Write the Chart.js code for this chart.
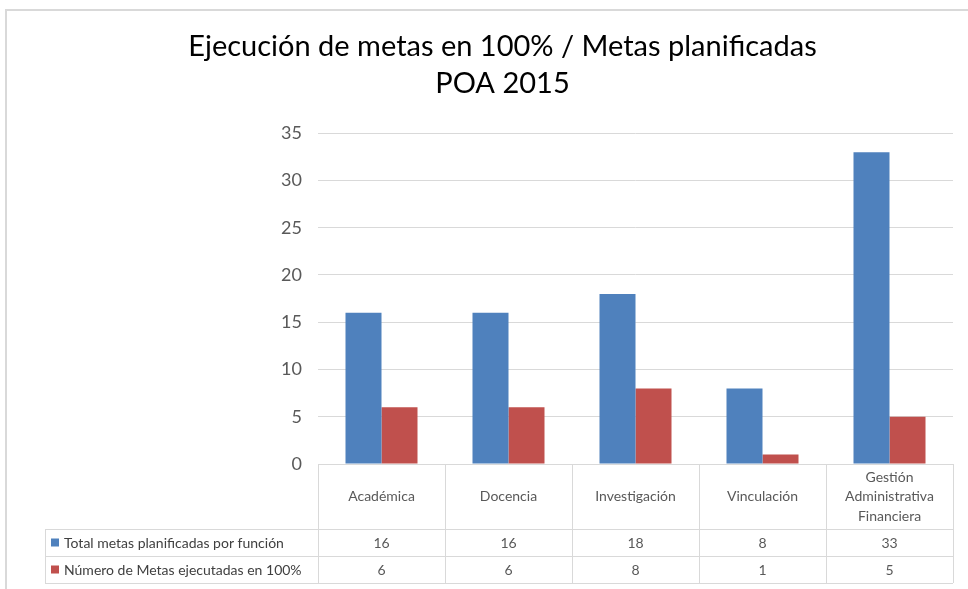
<!DOCTYPE html>
<html>
<head>
<meta charset="utf-8">
<script src="https://cdn.jsdelivr.net/npm/chart.js@4.4.1/dist/chart.umd.min.js"></script>
<style>
  html, body { margin: 0; padding: 0; background: #ffffff; }
  canvas { display: block; }
</style>
</head>
<body>
<canvas id="graficaMetas" width="968" height="589"></canvas>
<script>
var categorias = [
    ['Académica'],
    ['Docencia'],
    ['Investigación'],
    ['Vinculación'],
    ['Gestión', 'Administrativa', 'Financiera']
];
var totalPlanificadas = [16, 16, 18, 8, 33];
var ejecutadas100 = [6, 6, 8, 1, 5];
var nombresSeries = ['Total metas planificadas por función', 'Número de Metas ejecutadas en 100%'];
var coloresSeries = ['#4F81BD', '#C0504D'];
var tituloLineas = ['Ejecución de metas en 100% / Metas planificadas', 'POA 2015'];

var fuente = 'Lato, "Open Sans", sans-serif';
var colorLinea = '#d9d9d9';

// marco gris del grafico (estilo excel)
var marcoPlugin = {
    id: 'marco',
    beforeDraw: function (chart) {
        var ctx = chart.ctx;
        ctx.save();
        ctx.fillStyle = '#ffffff';
        ctx.fillRect(0, 0, chart.width, chart.height);
        ctx.strokeStyle = colorLinea;
        ctx.lineWidth = 2;
        ctx.beginPath();
        ctx.moveTo(6, chart.height);
        ctx.lineTo(6, 10);
        ctx.lineTo(chart.width, 10);
        ctx.stroke();
        ctx.restore();
    }
};

// tabla de datos debajo del eje x
var tablaPlugin = {
    id: 'tablaDatos',
    afterDraw: function (chart) {
        var ctx = chart.ctx;
        var area = chart.chartArea;
        var x = chart.scales.x;
        var n = categorias.length;
        var ancho = (area.right - area.left) / n;
        var top = area.bottom;
        var filaCat = top + 65;
        var fila1 = filaCat + 27;
        var fila2 = fila1 + 27;
        var izq = 45;
        var series = [totalPlanificadas, ejecutadas100];

        ctx.save();
        ctx.strokeStyle = colorLinea;
        ctx.lineWidth = 1;
        ctx.beginPath();
        // lineas horizontales
        ctx.moveTo(area.left, top + 0.5);
        ctx.lineTo(area.right, top + 0.5);
        [filaCat, fila1, fila2].forEach(function (yy) {
            ctx.moveTo(izq, yy + 0.5);
            ctx.lineTo(area.right, yy + 0.5);
        });
        // lineas verticales
        ctx.moveTo(izq + 0.5, filaCat);
        ctx.lineTo(izq + 0.5, fila2);
        for (var i = 0; i <= n; i++) {
            var vx = Math.round(area.left + i * ancho) + 0.5;
            ctx.moveTo(vx, top);
            ctx.lineTo(vx, fila2);
        }
        ctx.stroke();

        ctx.textAlign = 'center';
        ctx.textBaseline = 'middle';
        ctx.fillStyle = '#595959';
        ctx.font = '14px ' + fuente;
        for (var c = 0; c < n; c++) {
            var cx = x.getPixelForValue(c);
            var lineas = categorias[c];
            var alto = 19.5;
            var y0 = (top + filaCat) / 2 - (lineas.length - 1) * alto / 2;
            for (var l = 0; l < lineas.length; l++) {
                ctx.fillText(lineas[l], cx, y0 + l * alto);
            }
            ctx.fillText(String(series[0][c]), cx, (filaCat + fila1) / 2 + 1);
            ctx.fillText(String(series[1][c]), cx, (fila1 + fila2) / 2 + 1);
        }

        // leyenda dentro de la tabla
        ctx.textAlign = 'left';
        var filas = [[filaCat, fila1], [fila1, fila2]];
        for (var s = 0; s < 2; s++) {
            var cy = (filas[s][0] + filas[s][1]) / 2;
            ctx.fillStyle = coloresSeries[s];
            ctx.fillRect(51, cy - 4, 8, 8);
            ctx.fillStyle = '#404040';
            ctx.fillText(nombresSeries[s], 64, cy + 1);
        }
        ctx.restore();
    }
};

var canvas = document.getElementById('graficaMetas').getContext('2d');
var grafica = new Chart(canvas, {
    type: 'bar',
    data: {
        labels: categorias,
        datasets: [{
            label: nombresSeries[0],
            data: totalPlanificadas,
            backgroundColor: coloresSeries[0]
        }, {
            label: nombresSeries[1],
            data: ejecutadas100,
            backgroundColor: coloresSeries[1]
        }]
    },
    options: {
        responsive: false,
        devicePixelRatio: 1,
        animation: false,
        layout: {
            padding: { left: 52, right: 15, top: 0, bottom: 125 }
        },
        datasets: {
            bar: { categoryPercentage: 0.567, barPercentage: 1.0 }
        },
        plugins: {
            legend: { display: false },
            tooltip: { enabled: false },
            title: {
                display: true,
                text: tituloLineas,
                color: '#000000',
                font: { family: fuente, size: 29, weight: 'normal', lineHeight: 1.28 },
                padding: { top: 28, bottom: 31 }
            }
        },
        scales: {
            x: {
                display: false
            },
            y: {
                min: 0,
                max: 35,
                ticks: {
                    stepSize: 5,
                    color: '#595959',
                    padding: 16,
                    font: { family: fuente, size: 18 }
                },
                grid: {
                    color: colorLinea,
                    drawTicks: false
                },
                border: { display: false },
                afterFit: function (scale) {
                    scale.width = 266;
                }
            }
        }
    },
    plugins: [marcoPlugin, tablaPlugin]
});
</script>
</body>
</html>
